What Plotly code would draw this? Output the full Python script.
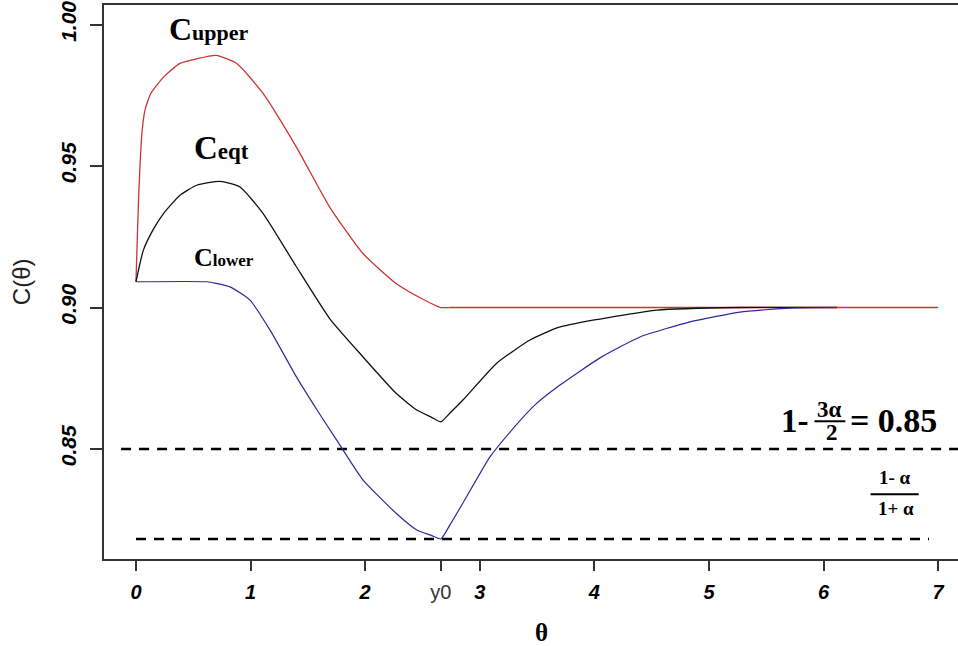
import plotly.graph_objects as go

# ---- data ----
theta_upper = [0, 0.012, 0.025, 0.04, 0.055, 0.08, 0.13, 0.24, 0.38, 0.53,
               0.70, 0.88, 1.11, 1.40, 1.69, 1.98, 2.27, 2.50, 2.66, 2.75, 3.0, 4.0,
               5.0, 6.0, 7.0]
c_upper = [0.9091, 0.9250, 0.9410, 0.9540, 0.9630, 0.9700, 0.9757, 0.9814, 0.9862, 0.9879,
           0.9891, 0.9862, 0.9756, 0.9567, 0.9355, 0.9191, 0.9085, 0.9030, 0.9000, 0.9000,
           0.9000, 0.9000, 0.9000, 0.9000, 0.9000]

theta_eqt = [0, 0.064, 0.15, 0.24, 0.384, 0.53, 0.733, 0.908, 1.11, 1.40, 1.69, 1.98,
             2.27, 2.45, 2.58, 2.66, 2.74, 2.853, 3.15, 3.438, 3.674, 4.0, 4.546, 5.27, 6.117]
c_eqt = [0.9091, 0.9202, 0.9275, 0.9332, 0.9397, 0.9432, 0.9446, 0.9426, 0.9332, 0.9144,
         0.8961, 0.8826, 0.8697, 0.8638, 0.8612, 0.8596, 0.8627, 0.8673, 0.8804, 0.8885,
         0.8928, 0.8956, 0.8991, 0.9000, 0.9000]

theta_lower = [0, 0.62, 0.70, 0.82, 0.995, 1.17, 1.40, 1.58, 1.75, 1.98, 2.27, 2.45, 2.58,
               2.66, 2.74, 2.853, 3.089, 3.264, 3.482, 3.70, 4.049, 4.398, 4.834, 5.271,
               5.707, 6.117]
c_lower = [0.9091, 0.9091, 0.9085, 0.9073, 0.9026, 0.8920, 0.8755, 0.8638, 0.8532, 0.8391,
           0.8273, 0.8214, 0.8194, 0.8182, 0.8232, 0.8309, 0.8472, 0.8560, 0.8656, 0.8726,
           0.8822, 0.8896, 0.8949, 0.8984, 0.8998, 0.9000]

ref_upper_x = [-0.13, 7.3]
ref_upper_y = [0.85, 0.85]
ref_lower_x = [0.0, 6.92]
ref_lower_y = [0.8182, 0.8182]

x_tickvals = [0, 1, 2, 2.66, 3, 4, 5, 6, 7]
x_ticklabels = ["0", "1", "2", "y0", "3", "4", "5", "6", "7"]
y_tickvals = [0.85, 0.90, 0.95, 1.00]
y_ticklabels = ["0.85", "0.90", "0.95", "1.00"]

x_text = [f"<b><i>{t}</i></b>" if t != "y0" else "<span style='color:#333'>y0</span>"
          for t in x_ticklabels]
y_text = [f"<b><i>{t}</i></b>" for t in y_ticklabels]

fig = go.Figure()
fig.add_trace(go.Scatter(x=ref_upper_x, y=ref_upper_y, mode="lines",
                         line=dict(color="black", width=2.5, dash="10px,8px")))
fig.add_trace(go.Scatter(x=ref_lower_x, y=ref_lower_y, mode="lines",
                         line=dict(color="black", width=2.5, dash="10px,8px")))
fig.add_trace(go.Scatter(x=theta_upper, y=c_upper, mode="lines",
                         line=dict(color="#cc3333", width=1.3, shape="spline", smoothing=0.5)))
fig.add_trace(go.Scatter(x=theta_eqt, y=c_eqt, mode="lines",
                         line=dict(color="#111111", width=1.3, shape="spline", smoothing=0.5)))
fig.add_trace(go.Scatter(x=theta_lower, y=c_lower, mode="lines",
                         line=dict(color="#2b2b9a", width=1.2, shape="spline", smoothing=0.5)))

serif = "Liberation Serif"
ann = []
ann.append(dict(x=0.27, y=0.9985, xref="x", yref="y", xanchor="left", yanchor="middle",
                text="<b>C<span style='font-size:22px'>upper</span></b>",
                font=dict(family=serif, size=32, color="black"), showarrow=False))
ann.append(dict(x=0.49, y=0.9565, xref="x", yref="y", xanchor="left", yanchor="middle",
                text="<b>C<span style='font-size:23px'>eqt</span></b>",
                font=dict(family=serif, size=33, color="black"), showarrow=False))
ann.append(dict(x=0.49, y=0.9175, xref="x", yref="y", xanchor="left", yanchor="middle",
                text="<b>C<span style='font-size:17px'>lower</span></b>",
                font=dict(family=serif, size=26, color="black"), showarrow=False))
# 1 - 3a/2 = 0.85
ann.append(dict(x=5.61, y=0.8600, xref="x", yref="y", xanchor="left", yanchor="middle",
                text="<b>1-</b>", font=dict(family=serif, size=33, color="black"),
                showarrow=False))
ann.append(dict(x=6.05, y=0.8640, xref="x", yref="y", xanchor="center", yanchor="middle",
                text="<b>3α</b>", font=dict(family=serif, size=23, color="black"),
                showarrow=False))
ann.append(dict(x=6.07, y=0.8560, xref="x", yref="y", xanchor="center", yanchor="middle",
                text="<b>2</b>", font=dict(family=serif, size=23, color="black"),
                showarrow=False))
ann.append(dict(x=6.21, y=0.8600, xref="x", yref="y", xanchor="left", yanchor="middle",
                text="<b>= 0.85</b>", font=dict(family=serif, size=34, color="black"),
                showarrow=False))
# (1-a)/(1+a)
ann.append(dict(x=6.62, y=0.8400, xref="x", yref="y", xanchor="center", yanchor="middle",
                text="<b>1- α</b>", font=dict(family=serif, size=19, color="black"),
                showarrow=False))
ann.append(dict(x=6.63, y=0.8290, xref="x", yref="y", xanchor="center", yanchor="middle",
                text="<b>1+ α</b>", font=dict(family=serif, size=19, color="black"),
                showarrow=False))
# axis titles
ann.append(dict(x=-0.097, y=0.50, xref="paper", yref="paper", xanchor="center",
                yanchor="middle", text="C(θ)", textangle=-90,
                font=dict(family="Liberation Sans", size=24, color="#222"), showarrow=False))
ann.append(dict(x=0.512, y=-0.132, xref="paper", yref="paper", xanchor="center",
                yanchor="middle", text="<b>θ</b>",
                font=dict(family=serif, size=25, color="black"), showarrow=False))

shapes = [
    dict(type="line", xref="x", yref="y", x0=5.92, x1=6.19, y0=0.8598, y1=0.8598,
         line=dict(color="black", width=2)),
    dict(type="line", xref="x", yref="y", x0=6.41, x1=6.83, y0=0.8340, y1=0.8340,
         line=dict(color="black", width=2)),
]

fig.update_layout(
    width=958, height=646,
    margin=dict(l=104, r=0, t=5, b=87),
    paper_bgcolor="white", plot_bgcolor="white",
    showlegend=False,
    annotations=ann, shapes=shapes,
    xaxis=dict(range=[-0.279, 7.173], showgrid=False, zeroline=False,
               showline=True, linecolor="#333", linewidth=2, mirror=True,
               ticks="outside", ticklen=10, tickwidth=1.5, tickcolor="#333",
               tickvals=x_tickvals, ticktext=x_text, ticklabelstandoff=4,
               ticklabeloverflow="allow",
               tickfont=dict(family="Liberation Sans", size=20, color="black")),
    yaxis=dict(range=[0.81113, 1.0069], showgrid=False, zeroline=False,
               showline=True, linecolor="#333", linewidth=2, mirror=False,
               ticks="outside", ticklen=12, tickwidth=1.5, tickcolor="#333",
               tickvals=y_tickvals, ticktext=y_text, tickangle=-90,
               ticklabelstandoff=6, ticklabeloverflow="allow",
               tickfont=dict(family="Liberation Sans", size=21, color="black")),
)

fig.write_html("out.html")
